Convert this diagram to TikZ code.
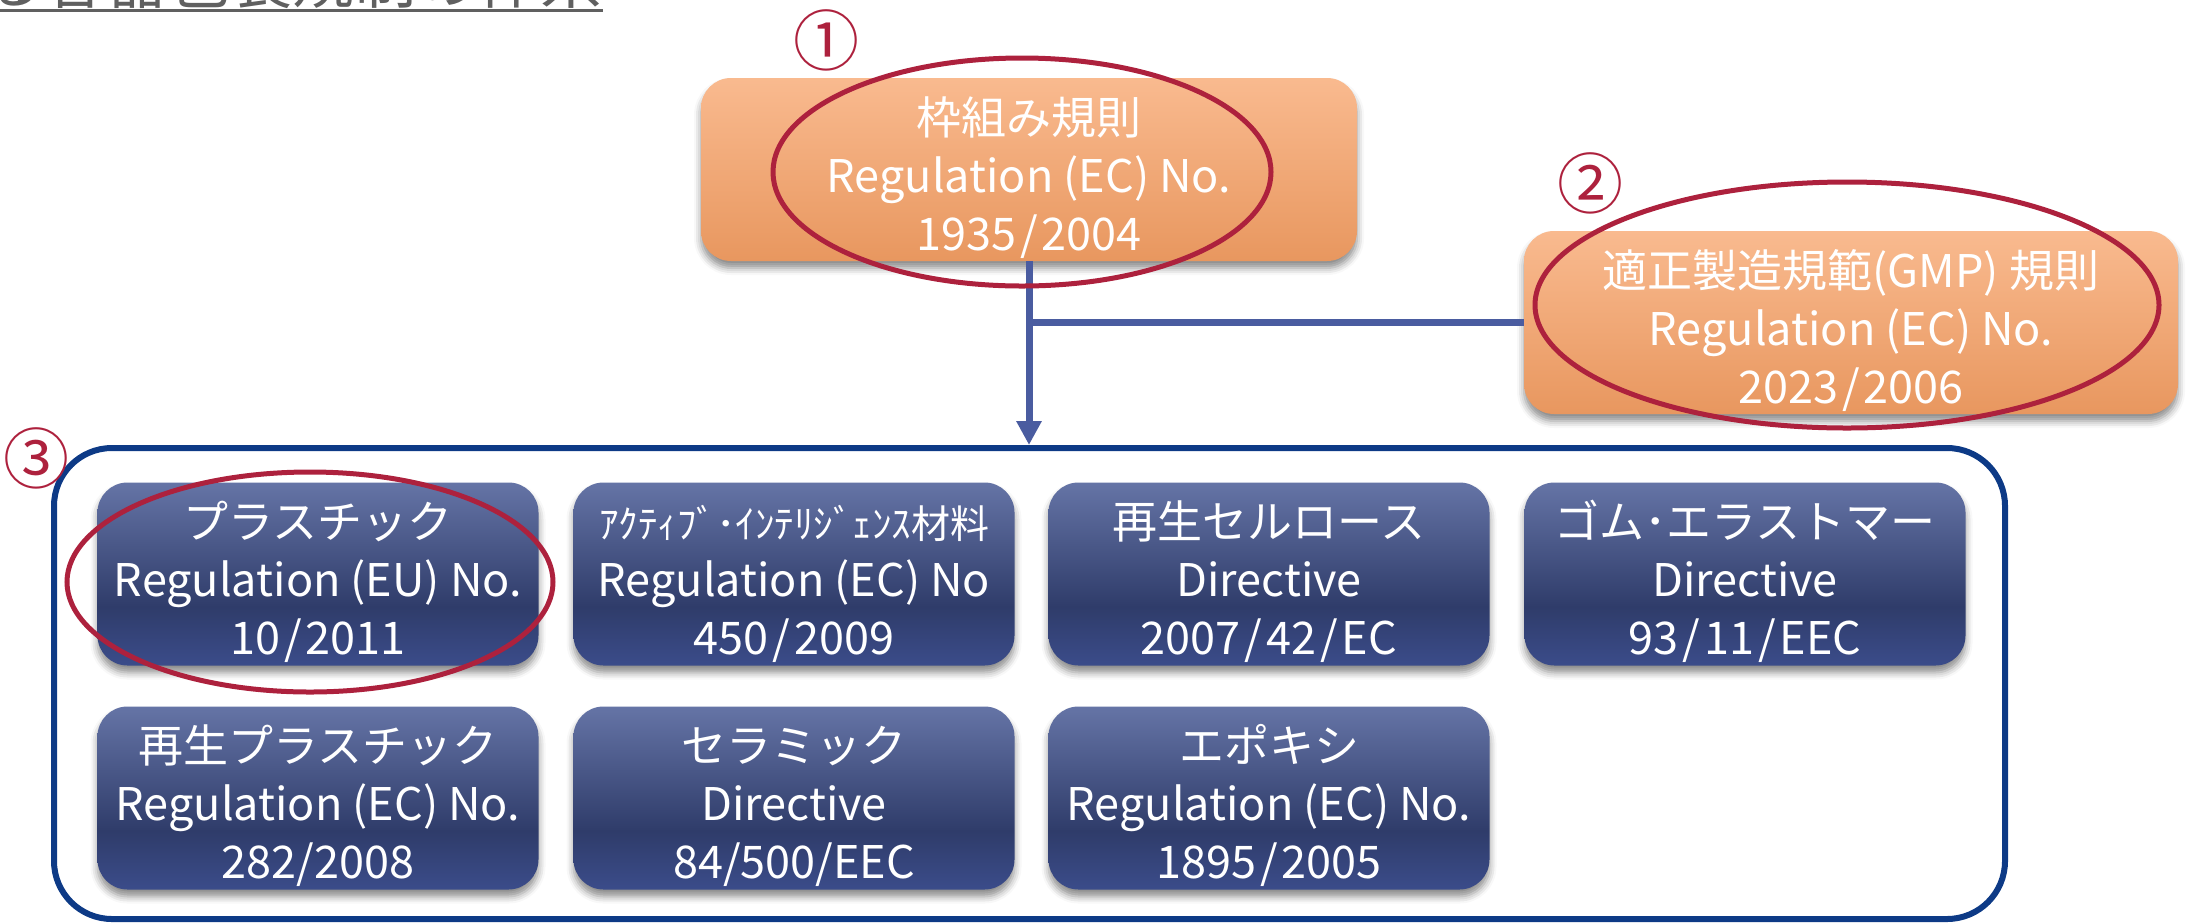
\documentclass[tikz,border=0pt]{standalone}
\usepackage{fontspec}
\setmainfont{Noto Sans CJK JP}
\usetikzlibrary{arrows.meta,shapes.geometric,shadows.blur}

\definecolor{orTop}{HTML}{F9BA8F}
\definecolor{orBot}{HTML}{E8975F}
\definecolor{blTop}{HTML}{6574A6}
\definecolor{blDark}{HTML}{2F3C6A}
\definecolor{blBot}{HTML}{3B4C8A}
\definecolor{frameBlue}{HTML}{0D3A86}
\definecolor{linkBlue}{HTML}{4A5CA0}
\definecolor{markRed}{HTML}{AD213D}
\definecolor{titleGray}{HTML}{606060}

% box fills: light at the top, darker towards the bottom
\pgfdeclareverticalshading{orangegrad}{100bp}{color(0bp)=(orBot); color(25bp)=(orBot); color(75bp)=(orTop); color(100bp)=(orTop)}
\pgfdeclareverticalshading{bluegrad}{100bp}{color(0bp)=(blBot); color(25bp)=(blBot); color(41bp)=(blDark); color(75bp)=(blTop); color(100bp)=(blTop)}

\tikzset{
  regbox/.style={rectangle, rounded corners=30pt, minimum width=441pt,
    minimum height=183pt, inner sep=0pt, align=center, text=white,
    font=\fontsize{45}{58}\selectfont,
    blur shadow={shadow xshift=0pt, shadow yshift=-7pt,
      shadow blur radius=7pt, shadow opacity=45}},
  framework/.style={regbox, shading=orangegrad, minimum width=656pt},
  material/.style={regbox, shading=bluegrad},
  groupframe/.style={draw=frameBlue, line width=6pt, rounded corners=58pt,
    minimum width=1951pt, minimum height=471pt, inner sep=0pt},
  link/.style={draw=linkBlue, line width=7pt},
  hilite/.style={ellipse, draw=markRed, line width=5pt, inner sep=0pt},
  marknum/.style={text=markRed, font=\fontsize{66}{66}\selectfont, inner sep=0pt},
}

% slash with a little air on both sides
\newcommand{\sep}{\kern4pt/\kern4pt}
% tall strut on the first line, sets the text block slightly low in its box
\newcommand{\lowtext}{\rule{0pt}{54pt}}

\begin{document}
\begin{tikzpicture}[x=1pt,y=-1pt]
\useasboundingbox (0,0) rectangle (2186,922);

% heading, only its lower edge lies inside the page
\node[font=\fontsize{62}{62}\selectfont, text=titleGray, inner sep=0pt,
  anchor=base east] (title) at (603,3) {る容器包装規制の体系};
\coordinate (ulstart) at (0,10.5);
\draw[titleGray, line width=3pt] (ulstart) -- (ulstart -| title.east);

% frame round the specific measures
\node[groupframe] (group) at (1029.5,683.5) {};

% framework and GMP regulations
\node[framework] (frame) at (1029,169.5)
  {\lowtext 枠組み規則\\Regulation (EC) No.\\1935\sep2004};
\node[framework, minimum width=654pt] (gmp) at (1851,322.5)
  {\lowtext 適正製造規範(GMP) 規則\\Regulation (EC) No.\\2023\sep2006};

% specific measures, first row
\node[material] (plastic) at (318,574)
  {\lowtext プラスチック\\Regulation (EU) No.\\10\sep2011};
\node[material] (active) at (794,574)
  {\lowtext{\fontsize{39}{58}\selectfont ｱｸﾃｨﾌﾞ･ｲﾝﾃﾘｼﾞｪﾝｽ材料}\\Regulation (EC) No\\450\sep2009};
\node[material] (cellulose) at (1269,574)
  {\lowtext 再生セルロース\\Directive\\2007\sep42\sep EC};
\node[material] (rubber) at (1745,574)
  {\lowtext ゴム･エラストマー\\Directive\\93\sep11\sep EEC};

% specific measures, second row
\node[material] (recycled) at (318,798)
  {\lowtext 再生プラスチック\\Regulation (EC) No.\\282/2008};
\node[material] (ceramic) at (794,798)
  {\lowtext セラミック\\Directive\\84/500/EEC};
\node[material] (epoxy) at (1269,798)
  {\lowtext エポキシ\\Regulation (EC) No.\\1895\sep2005};

% connectors
\draw[link, -{Triangle[width=24pt,length=24pt]}] (frame.south) -- (frame.south |- group.north);
\draw[link] (frame.south |- gmp.west) -- (gmp.west);

% highlighted items
\node[hilite, minimum width=498pt, minimum height=228pt] (hl1) at (1022,172) {};
\node[hilite, minimum width=624pt, minimum height=246pt] (hl2) at (1847,305) {};
\node[hilite, minimum width=486pt, minimum height=220pt] (hl3) at (310,582) {};

\node[marknum] (n1) at (826,40) {①};
\node[marknum] (n2) at (1590,183) {②};
\node[marknum] (n3) at (36,458) {③};
\end{tikzpicture}
\end{document}
